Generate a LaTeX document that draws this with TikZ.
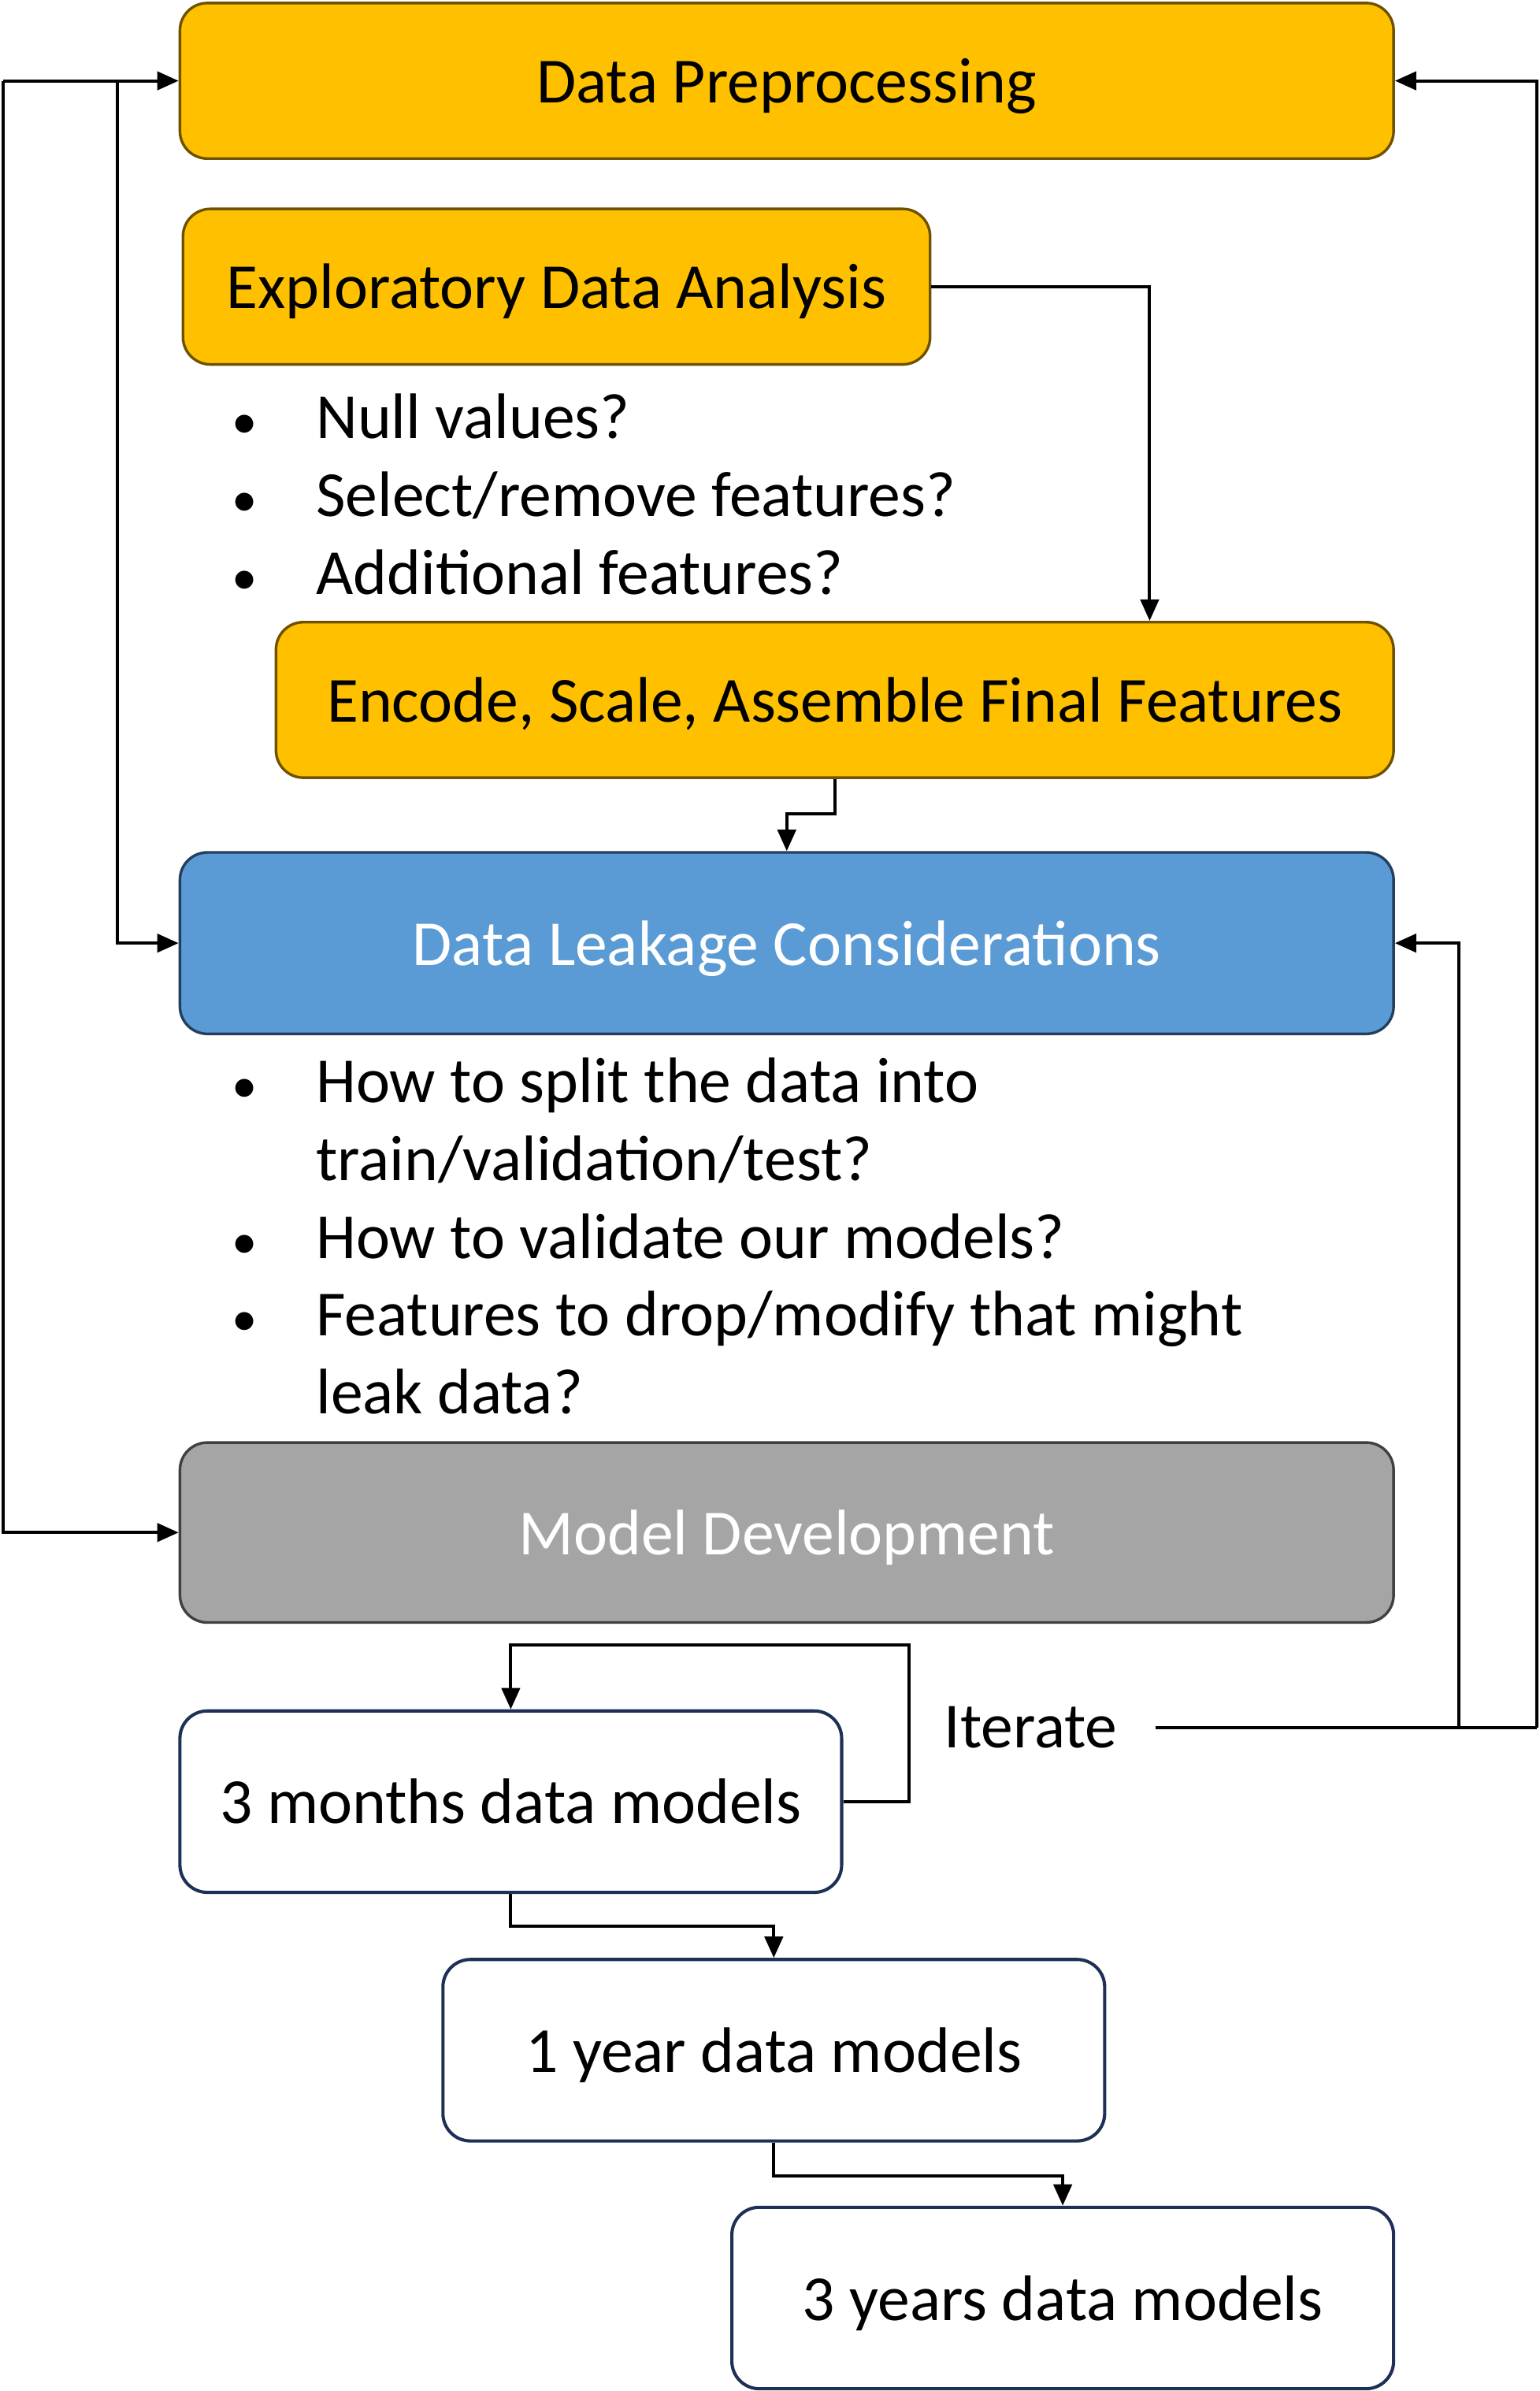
\documentclass[tikz,border=0pt]{standalone}
\usepackage{fontspec}
\setmainfont{Carlito}
\usetikzlibrary{arrows.meta}

\definecolor{ambfill}{HTML}{FFC000}
\definecolor{ambline}{HTML}{6E5200}
\definecolor{bluefill}{HTML}{5B9BD5}
\definecolor{blueline}{HTML}{223F5E}
\definecolor{greyfill}{HTML}{A5A5A5}
\definecolor{greyline}{HTML}{404040}
\definecolor{navyline}{HTML}{1F3056}

\newcommand{\dotmark}{{\fontsize{19}{29}\selectfont •}}

\begin{document}
\begin{tikzpicture}[
	font=\fontsize{24}{29}\selectfont,
	stage/.style={draw, rounded corners=0.36cm, line width=1pt, align=center, minimum height=2.04cm, text height=16.5pt, text depth=0pt},
	amber/.style={stage, fill=ambfill, draw=ambline},
	leakbox/.style={stage, fill=bluefill, draw=blueline, text=white, minimum height=2.38cm},
	devbox/.style={stage, fill=greyfill, draw=greyline, text=white, minimum height=2.36cm},
	runbox/.style={stage, fill=white, draw=navyline, line width=1.2pt, minimum width=8.68cm, minimum height=2.38cm},
	notes/.style={anchor=west, inner sep=0pt, align=left},
	arr/.style={line width=1.2pt, -{Triangle[length=0.28cm,width=0.24cm]}}
	]
	\useasboundingbox (0,0) rectangle (20.2,-31.36);
	
	\node[amber, minimum width=15.92cm] (prep) at (10.32,-1.06) {Data Preprocessing};
	\node[amber, minimum width=9.8cm]   (eda)  at (7.3,-3.76)   {Exploratory Data Analysis};
	\node[notes] (edanotes) at (3.04,-6.57) {%
		\begin{tabular}{@{}p{1.1cm}@{}l@{}}
			\dotmark & Null values?\\
			\dotmark & Select/remove features?\\
			\dotmark & Additional features?
		\end{tabular}};
	\node[amber, minimum width=14.66cm] (enc) at (10.95,-9.18) {Encode, Scale, Assemble Final Features};
	
	\node[leakbox, minimum width=15.92cm] (leak) at (10.32,-12.37) {Data Leakage Considerations};
	\node[notes] (leaknotes) at (3.04,-16.3) {%
		\begin{tabular}{@{}p{1.1cm}@{}l@{}}
			\dotmark & How to split the data into\\
			  & train/validation/test?\\
			\dotmark & How to validate our models?\\
			\dotmark & Features to drop/modify that might\\
			  & leak data?
		\end{tabular}};
	
	\node[devbox, minimum width=15.92cm] (dev) at (10.32,-20.1) {Model Development};
	
	\node[runbox] (m3) at (6.7,-23.63)  {3 months data models};
	\node[runbox] (y1) at (10.15,-26.89) {1 year data models};
	\node[runbox] (y3) at (13.94,-30.14) {3 years data models};
	\node[inner xsep=0.5cm] (iter) at (13.52,-22.66) {Iterate};
	
	% left feedback lines
	\coordinate (lout) at (0.04,-1.06);
	\coordinate (lin)  at (1.54,-1.06);
	\draw[arr] (lout) -- (prep.west);
	\draw[arr] (lout) |- (dev.west);
	\draw[arr] (lin) |- (leak.west);
	
	% iterate lines on the right
	\coordinate (rout) at (20.16,-22.66);
	\coordinate (rin)  at (19.14,-22.66);
	\draw[line width=1.2pt] (iter.east) -- (rout);
	\draw[arr] (rout) |- (prep.east);
	\draw[arr] (rin) |- (leak.east);
	
	\draw[arr] (eda.east) -| ([xshift=4.13cm]enc.north);
	\draw[arr] (enc.south) -- ++(0,-0.46) -| (leak.north);
	
	\draw[arr] (m3.east) -- ++(0.86,0) |- ([yshift=0.84cm]m3.north) -- (m3.north);
	\draw[arr] (m3.south) -- ++(0,-0.42) -| (y1.north);
	\draw[arr] (y1.south) -- ++(0,-0.44) -| (y3.north);
\end{tikzpicture}
\end{document}
